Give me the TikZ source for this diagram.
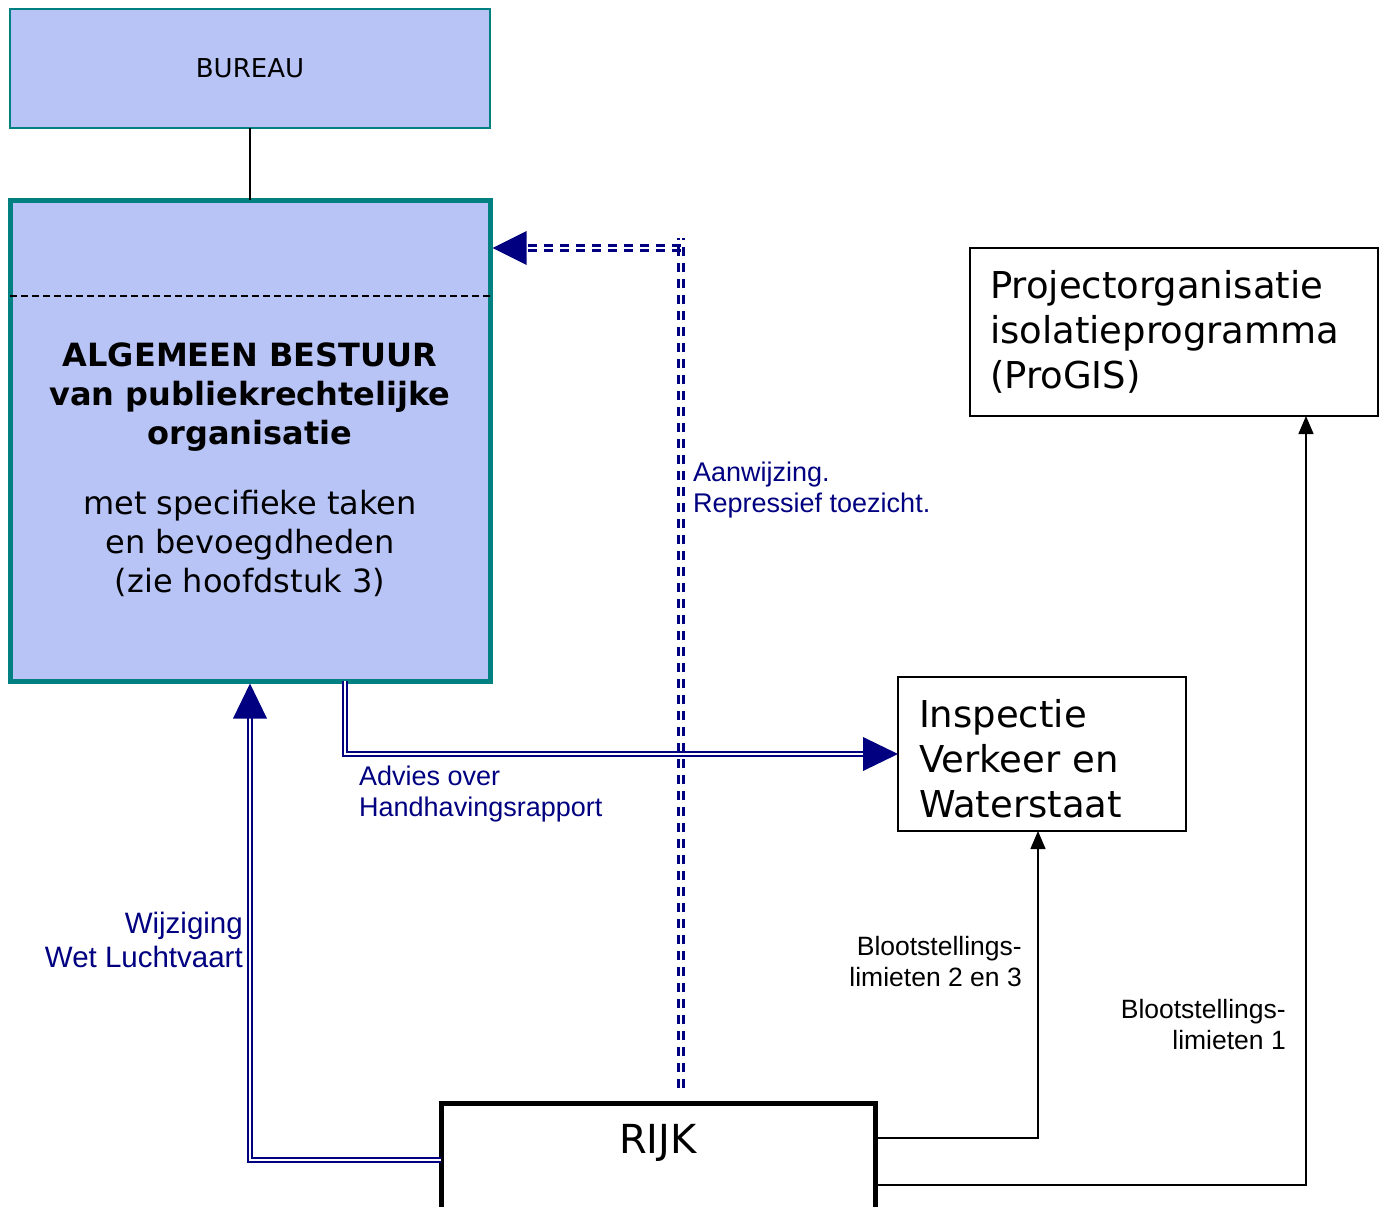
\documentclass[tikz,border=0pt]{standalone}
\usepackage{fontspec}
\newfontfamily\verd{DejaVu Sans}
\newfontfamily\arial{Liberation Sans}
\usetikzlibrary{arrows.meta,calc}
\definecolor{lav}{RGB}{184,196,245}
\definecolor{tealb}{RGB}{0,128,128}
\definecolor{navyc}{RGB}{0,0,128}
\begin{document}
\begin{tikzpicture}[x=1pt,y=-1pt,
  box/.style={draw, line width=1.5pt, rectangle, outer sep=0pt, inner sep=0pt},
  dbl/.style={draw=navyc, double=white, line width=2pt, double distance=2.5pt},
  dashline/.style={draw=navyc, line width=2.4pt, dash pattern=on 9pt off 7pt},
  thinarrow/.style={draw=black, line width=1.5pt, -{Triangle[length=18pt,width=15pt]}},
  navylab/.style={text=navyc, font=\arial\fontsize{27}{31}\selectfont, align=left, inner sep=0pt},
  blacklab/.style={text=black, font=\arial\fontsize{26.5}{31}\selectfont, align=right, inner sep=0pt},
  boxfont/.style={font=\verd\fontsize{37}{45}\selectfont}
]
\useasboundingbox (0,0) rectangle (1385,1207);

% boxes
\node[box, draw=tealb, fill=lav, minimum width=480pt, minimum height=119pt,
      font=\verd\fontsize{26}{31}\selectfont] (bureau) at (250,68.5) {BUREAU};
\node[box, draw=tealb, fill=lav, line width=5pt, minimum width=480pt, minimum height=481pt] (main) at (250,440.5) {};
\draw[line width=1.5pt, dash pattern=on 7pt off 4pt] ([yshift=-96pt]main.north west) -- ([yshift=-96pt]main.north east);
\node[font=\verd\fontsize{32}{39}\selectfont, align=center, inner sep=0pt] (maintext) at (250,470)
  {\textbf{ALGEMEEN BESTUUR}\\\textbf{van publiekrechtelijke}\\\textbf{organisatie}\\[31pt]met specifieke taken\\en bevoegdheden\\(zie hoofdstuk 3)};

\node[box, boxfont, minimum width=408pt, minimum height=168pt, text width=368pt, inner xsep=20pt, align=left] (proj) at (1174,332)
  {Projectorganisatie\\isolatieprogramma\\(ProGIS)};
\node[box, boxfont, minimum width=288pt, minimum height=154pt, text width=246pt, inner xsep=21pt, align=left] (ins) at (1042,754)
  {\rule{0pt}{37pt}Inspectie\\Verkeer en\\Waterstaat};
\node[draw, line width=5pt, minimum width=434pt, minimum height=114pt, outer sep=0pt,
      label={[font=\verd\fontsize{40}{48}\selectfont, yshift=17pt]center:RIJK}] (rijk) at (658,1160) {};

% connectors
\draw[line width=1.5pt] (bureau.south) -- (main.north);

% Aanwijzing: dashed double connector RIJK -> algemeen bestuur
\coordinate (aBot) at (681,1088);
\coordinate (aTop) at (681,238);
\coordinate (aTip) at ([xshift=36pt,yshift=-48pt]main.north east);
\coordinate (aCorner) at (aTip -| aBot);
\foreach \s in {-2.4,2.4}{
  \draw[dashline] ([xshift=\s pt]aBot) -- ([xshift=\s pt]aTop);
  \draw[dashline] ([yshift=\s pt]aCorner) -- ([yshift=\s pt]aTip);
}
\fill[navyc] ([xshift=2.5pt,yshift=-48pt]main.north east) -- ++(34,-17) -- ++(0,34) -- cycle;

\draw[dbl] ([xshift=335pt]main.south west) |- ([xshift=-35pt]ins.west);
\fill[navyc] (ins.west) -- ++(-35,-17) -- ++(0,34) -- cycle;

\draw[dbl] (rijk.west) -| ([yshift=-37pt]main.south);
\fill[navyc] ([yshift=-2.5pt]main.south) -- ++(-17,35) -- ++(34,0) -- cycle;

\draw[thinarrow] ([yshift=22pt]rijk.east) -| ([xshift=-4pt]ins.south);
\draw[thinarrow] ([yshift=-25pt]rijk.east) -| ([xshift=132pt]proj.south);

% labels
\node[navylab, anchor=west] (lab1) at (693,490) {Aanwijzing.\\Repressief toezicht.};
\node[navylab, anchor=west] (lab2) at (359,794) {Advies over\\Handhavingsrapport};
\node[navylab, anchor=east, align=right, font=\arial\fontsize{29.5}{34}\selectfont] (lab3) at (243,940) {Wijziging\\Wet Luchtvaart};
\node[blacklab, anchor=east] (lab4) at (1022,962) {Blootstellings-\\limieten 2 en 3};
\node[blacklab, anchor=east] (lab5) at (1286,1025) {Blootstellings-\\limieten 1};
\end{tikzpicture}
\end{document}
